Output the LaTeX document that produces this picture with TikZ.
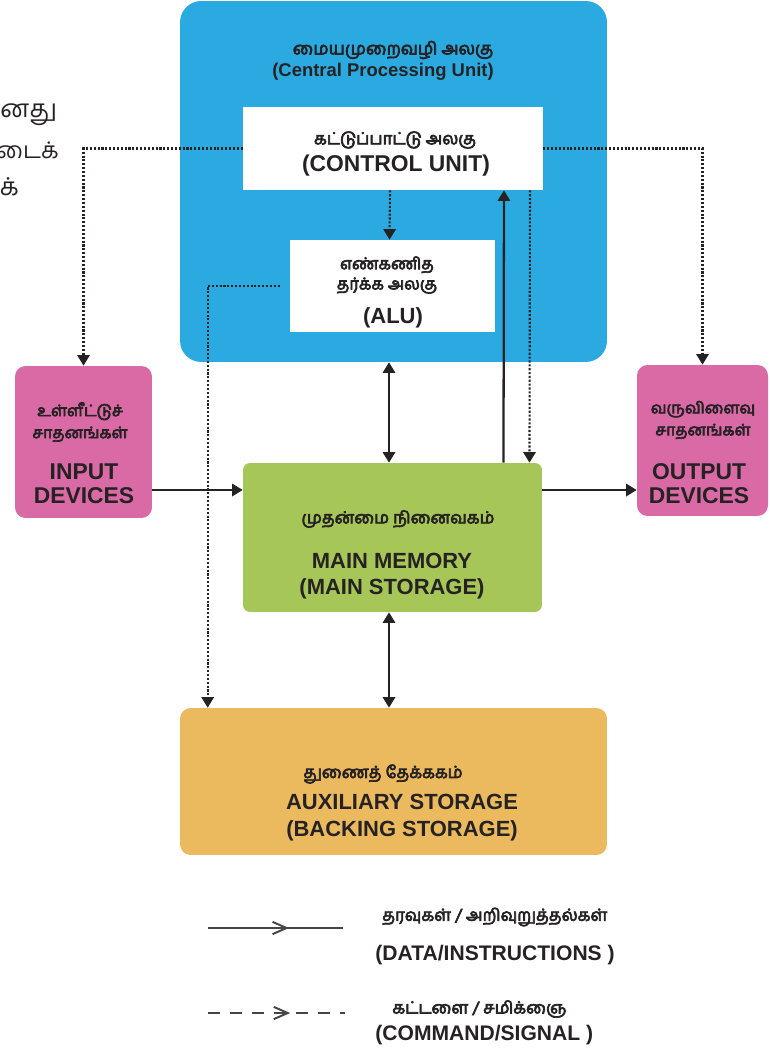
\documentclass[tikz,border=0pt]{standalone}
\usepackage{fontspec}
\setmainfont{Liberation Sans}
\newfontfamily\tafont[Script=Tamil, FakeBold=4]{Hind Madurai}
\newfontfamily\taplain[Script=Tamil]{Hind Madurai}
\usetikzlibrary{arrows.meta,decorations.markings}

\definecolor{cpublue}{RGB}{43,170,225}
\definecolor{devpink}{RGB}{217,106,166}
\definecolor{memgreen}{RGB}{166,199,88}
\definecolor{auxorange}{RGB}{235,186,94}
\definecolor{ink}{RGB}{38,34,35}
\definecolor{legink}{RGB}{70,68,68}

\begin{document}
\begin{tikzpicture}[x = 0.02cm, y = -0.02cm, text = ink,
  >={Triangle[length=6pt, width=7pt]},
  unitbox/.style = {inner sep = 0pt, rounded corners = #1},
  en/.style = {align = center, inner sep = 0pt, font = \fontsize{12.5}{14.5}\selectfont\bfseries},
  tam/.style = {align = center, inner sep = 0pt, font = \tafont\fontsize{9.5}{12.5}\selectfont},
  data/.style = {draw = ink, line width = 1.3pt},
  signal/.style = {draw = ink, line width = 1.2pt, densely dotted},
  chevron/.style = {postaction = {decorate, decoration = {markings,
      mark = at position 0.6 with {\arrow{Straight Barb[length=8pt, width=7pt]}}}}}]
\useasboundingbox (0,0) rectangle (769,1053);

% page text at the left
\node [anchor = east, inner sep = 0pt, font = \taplain\fontsize{14}{18}\selectfont] (cut1) at (57,115) {னது};
\node [anchor = east, inner sep = 0pt, font = \taplain\fontsize{13}{18}\selectfont] (cut2) at (59,150) {டைக்};
\node [anchor = east, inner sep = 0pt, font = \taplain\fontsize{14}{18}\selectfont] (cut3) at (19,187) {க்};

% units
\node [unitbox = 12pt, fill = cpublue, minimum width = 8.54cm, minimum height = 7.22cm] (cpu) at (393.5,181.5) {};
\node [inner sep = 0pt, fill = white, minimum width = 6cm, minimum height = 1.66cm] (cu) at (393,148.5) {};
\node [inner sep = 0pt, fill = white, minimum width = 4.1cm, minimum height = 1.84cm] (alu) at (392.5,286) {};
\node [unitbox = 6pt, fill = devpink, minimum width = 2.74cm, minimum height = 3.04cm] (in) at (83.5,442) {};
\node [unitbox = 6pt, fill = devpink, minimum width = 2.62cm, minimum height = 3.02cm] (out) at (702.5,440.5) {};
\node [unitbox = 4pt, fill = memgreen, minimum width = 5.98cm, minimum height = 2.98cm] (mem) at (392.5,537.5) {};
\node [unitbox = 6pt, fill = auxorange, minimum width = 8.54cm, minimum height = 2.94cm] (aux) at (393.5,781.5) {};

% labels
\node [tam, font = \tafont\fontsize{9.8}{12}\selectfont] (cputa) at (393,50) {மையமுறைவழி அலகு};
\node [en, font = \fontsize{10.5}{12}\selectfont\bfseries] (cpuen) at (383,72) {(Central Processing Unit)};
\node [tam] (cuta) at (395,140) {கட்டுப்பாட்டு அலகு};
\node [en, font = \fontsize{13}{15}\selectfont\bfseries] (cuen) at (396,166) {(CONTROL UNIT)};
\node [tam, font = \tafont\fontsize{9.3}{11.5}\selectfont] (aluta) at (387,275) {எண்கணித\\தர்க்க அலகு};
\node [en] (aluen) at (393,318) {(ALU)};
\node [tam, font = \tafont\fontsize{9}{12.5}\selectfont] (inta) at (80,422) {உள்ளீட்டுச்\\சாதனங்கள்};
\node [en, font = \fontsize{13}{13.8}\selectfont\bfseries] (inen) at (84,484) {INPUT\\DEVICES};
\node [tam, font = \tafont\fontsize{9}{12.5}\selectfont] (outta) at (703,420) {வருவிளைவு\\சாதனங்கள்};
\node [en, font = \fontsize{13}{13.8}\selectfont\bfseries] (outen) at (699,484) {OUTPUT\\DEVICES};
\node [tam] (memta) at (398,519) {முதன்மை நினைவகம்};
\node [en, font = \fontsize{12.5}{14.8}\selectfont\bfseries] (memen) at (392,576) {MAIN MEMORY\\(MAIN STORAGE)};
\node [tam] (auxta) at (383,774) {துணைத் தேக்ககம்};
\node [en, font = \fontsize{12.5}{15.3}\selectfont\bfseries] (auxen) at (402,818) {AUXILIARY STORAGE\\(BACKING STORAGE)};

% command / signal
\draw [signal, ->] (cu.west) -| (in.north);
\draw [signal, ->] (cu.east) -| (out.north);
\draw [signal, ->] ([xshift = -0.06cm]cu.south) -- ([xshift = -0.06cm]alu.north);
\draw [signal, ->] ([xshift = 2.74cm]cu.south) -- ([xshift = 2.74cm]mem.north);
\draw [signal, ->] ([xshift = -0.2cm]alu.west) -| ([xshift = 0.56cm]aux.north west);

% data / instructions
\coordinate (memin) at ([yshift = 0.95cm]mem.west);
\coordinate (memout) at ([yshift = 0.95cm]mem.east);
\draw [data, ->] (in.east |- memin) -- (memin);
\draw [data, ->] (memout) -- (out.west |- memout);
\draw [data, <->] ([xshift = -0.07cm]cpu.south -| mem.north) -- ([xshift = -0.07cm]mem.north);
\draw [data, ->] ([xshift = 2.22cm]mem.north) -- ([xshift = 2.22cm]cu.south);
\draw [data, <->] ([xshift = -0.07cm]mem.south) -- ([xshift = -0.07cm]aux.north -| mem.south);

% legend
\coordinate (datafrom) at (208,928);
\coordinate (datato) at (343,928);
\coordinate (sigfrom) at (208,1013);
\coordinate (sigto) at (345,1013);
\draw [legink, line width = 1.1pt, chevron] (datafrom) -- (datato);
\draw [legink, line width = 1.1pt, dash pattern = on 7pt off 5.5pt, chevron] (sigfrom) -- (sigto);
\node [tam, anchor = west] (datata) at (382,917) {தரவுகள் / அறிவுறுத்தல்கள்};
\node [en, anchor = west, font = \fontsize{12}{14}\selectfont\bfseries] (dataen) at (375,955) {(DATA/INSTRUCTIONS )};
\node [tam, anchor = west] (sigta) at (392,1009) {கட்டளை / சமிக்ஞை};
\node [en, anchor = west, font = \fontsize{12}{14}\selectfont\bfseries] (sigen) at (375,1035) {(COMMAND/SIGNAL )};
\end{tikzpicture}
\end{document}
